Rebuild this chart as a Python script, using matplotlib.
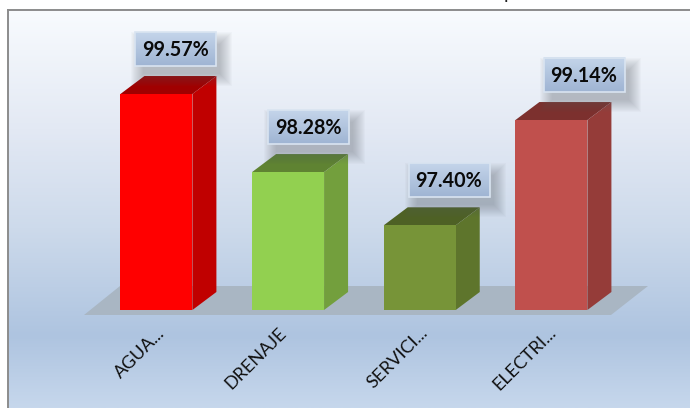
#!/usr/bin/env python3
"""Faux 3D bar chart of service coverage percentages."""

from __future__ import annotations

import matplotlib

matplotlib.use("Agg")

import matplotlib.pyplot as plt
import numpy as np
from matplotlib.colors import LinearSegmentedColormap
from matplotlib.patches import Polygon, Rectangle

categories = ["AGUA...", "DRENAJE", "SERVICI...", "ELECTRI..."]
coverage = [99.57, 98.28, 97.40, 99.14]
axis_floor = 96.0

front_colors = ["#ff0000", "#92d050", "#779438", "#c0504d"]
side_colors = ["#c00000", "#739f3d", "#5e752c", "#953c39"]
top_colors = ["#a00000", "#5f8332", "#4e6125", "#7c302e"]

W, H = 690, 408
PX_PER_CAT = 131.67
PX_PER_PCT = 60.5
BASE_X, BASE_Y = 156.4, 310.0
BAR_W = 72.0
DEPTH_X, DEPTH_Y = 24.0, 18.0

# label box centre relative to the bar's front centre, pixels
BOX_DX = [19.5, 20.5, 29.5, 33.0]
BOX_GAP = 27.0
TICK_DX = [0.5, -9.5, -0.5, -3.5]
TICK_Y = 324.5

plt.rcParams["font.family"] = ["Lato", "DejaVu Sans"]


def dx(px: float) -> float:
    return px / PX_PER_CAT


def dy(px: float) -> float:
    return px / PX_PER_PCT


def x_of(px: float) -> float:
    return (px - BASE_X) / PX_PER_CAT


def y_of(py: float) -> float:
    return axis_floor + (BASE_Y - py) / PX_PER_PCT


def draw_background(ax: plt.Axes) -> None:
    cmap = LinearSegmentedColormap.from_list(
        "bg",
        [
            (0.0, "#f8fbfe"),
            (0.3, "#e3e9f4"),
            (0.55, "#cddaeb"),
            (0.82, "#aec4e0"),
            (1.0, "#c6d7ec"),
        ],
    )
    grad = np.linspace(0, 1, 256).reshape(-1, 1)
    ax.imshow(
        grad,
        cmap=cmap,
        aspect="auto",
        extent=(x_of(8), x_of(W), y_of(H), y_of(10)),
        zorder=0,
    )
    ax.plot([x_of(7.5), x_of(7.5)], [y_of(H), y_of(9.5)], color="#8c8c8c", lw=1.4, zorder=1)
    ax.plot([x_of(7.5), x_of(W)], [y_of(9.5), y_of(9.5)], color="#8c8c8c", lw=1.4, zorder=1)


def draw_floor(ax: plt.Axes) -> None:
    pts = [(84, 315), (611, 315), (648, 286), (120, 286)]
    ax.add_patch(
        Polygon([(x_of(a), y_of(b)) for a, b in pts], closed=True, fc="#a9b6c3", ec="none", zorder=2)
    )


def draw_bar(ax: plt.Axes, i: int, value: float) -> None:
    left = i - dx(BAR_W / 2)
    right = i + dx(BAR_W / 2)
    ox, oy = dx(DEPTH_X), dy(DEPTH_Y)
    ax.add_patch(
        Polygon(
            [(right, axis_floor), (right + ox, axis_floor + oy), (right + ox, value + oy), (right, value)],
            fc=side_colors[i], ec="none", zorder=3,
        )
    )
    ax.add_patch(
        Polygon(
            [(left, value), (right, value), (right + ox, value + oy), (left + ox, value + oy)],
            fc=top_colors[i], ec="none", zorder=3,
        )
    )
    ax.add_patch(
        Rectangle((left, axis_floor), right - left, value - axis_floor, fc=front_colors[i], ec="none", zorder=4)
    )


def draw_label(ax: plt.Axes, i: int, value: float) -> None:
    cx = BASE_X + i * PX_PER_CAT + BOX_DX[i]
    cy = BASE_Y - (value - axis_floor) * PX_PER_PCT - DEPTH_Y - BOX_GAP
    half_w, half_h = 40.5, 17.0

    # soft shadow from stacked translucent boxes
    for grow in np.linspace(10, -2, 13):
        ax.add_patch(
            Rectangle(
                (x_of(cx - half_w + 6 - grow), y_of(cy + half_h + 10 + grow)),
                dx(2 * half_w + 2 * grow),
                dy(2 * half_h + 2 * grow),
                fc="#5a6068",
                ec="none",
                alpha=0.03,
                zorder=5,
            )
        )

    cmap = LinearSegmentedColormap.from_list("box", ["#c4d5ea", "#9fb4d3"])
    grad = np.linspace(0, 1, 64).reshape(-1, 1)
    ax.imshow(
        grad,
        cmap=cmap,
        aspect="auto",
        extent=(x_of(cx - half_w), x_of(cx + half_w), y_of(cy + half_h), y_of(cy - half_h)),
        zorder=6,
    )
    ax.add_patch(
        Rectangle(
            (x_of(cx - half_w), y_of(cy + half_h)),
            dx(2 * half_w),
            dy(2 * half_h),
            fc="none",
            ec="#d9e4f1",
            lw=1.2,
            zorder=7,
        )
    )
    ax.text(
        x_of(cx - 0.5), y_of(cy + 0.5), f"{value:.2f}%",
        ha="center", va="center", fontsize=14.2, fontweight="bold", color="#0a0a0a", zorder=8,
    )


def main() -> None:
    fig = plt.figure(figsize=(W / 100, H / 100), dpi=100, facecolor="white")
    ax = fig.add_axes([0, 0, 1, 1])
    ax.axis("off")

    draw_background(ax)
    draw_floor(ax)
    for i, value in enumerate(coverage):
        draw_bar(ax, i, value)
    for i, value in enumerate(coverage):
        draw_label(ax, i, value)

    for i, name in enumerate(categories):
        ax.text(
            i + dx(TICK_DX[i]), y_of(TICK_Y), name,
            rotation=45, rotation_mode="anchor", ha="right", va="top",
            fontsize=13, color="#111111", zorder=8,
        )

    # descender of the title cropped at the top edge
    ax.text(x_of(509), y_of(-1), "p", ha="center", va="baseline", fontsize=14, color="#222222", clip_on=False)

    ax.set_xlim(x_of(0), x_of(W))
    ax.set_ylim(y_of(H), y_of(0))
    fig.savefig("out.png", dpi=100)


if __name__ == "__main__":
    main()
